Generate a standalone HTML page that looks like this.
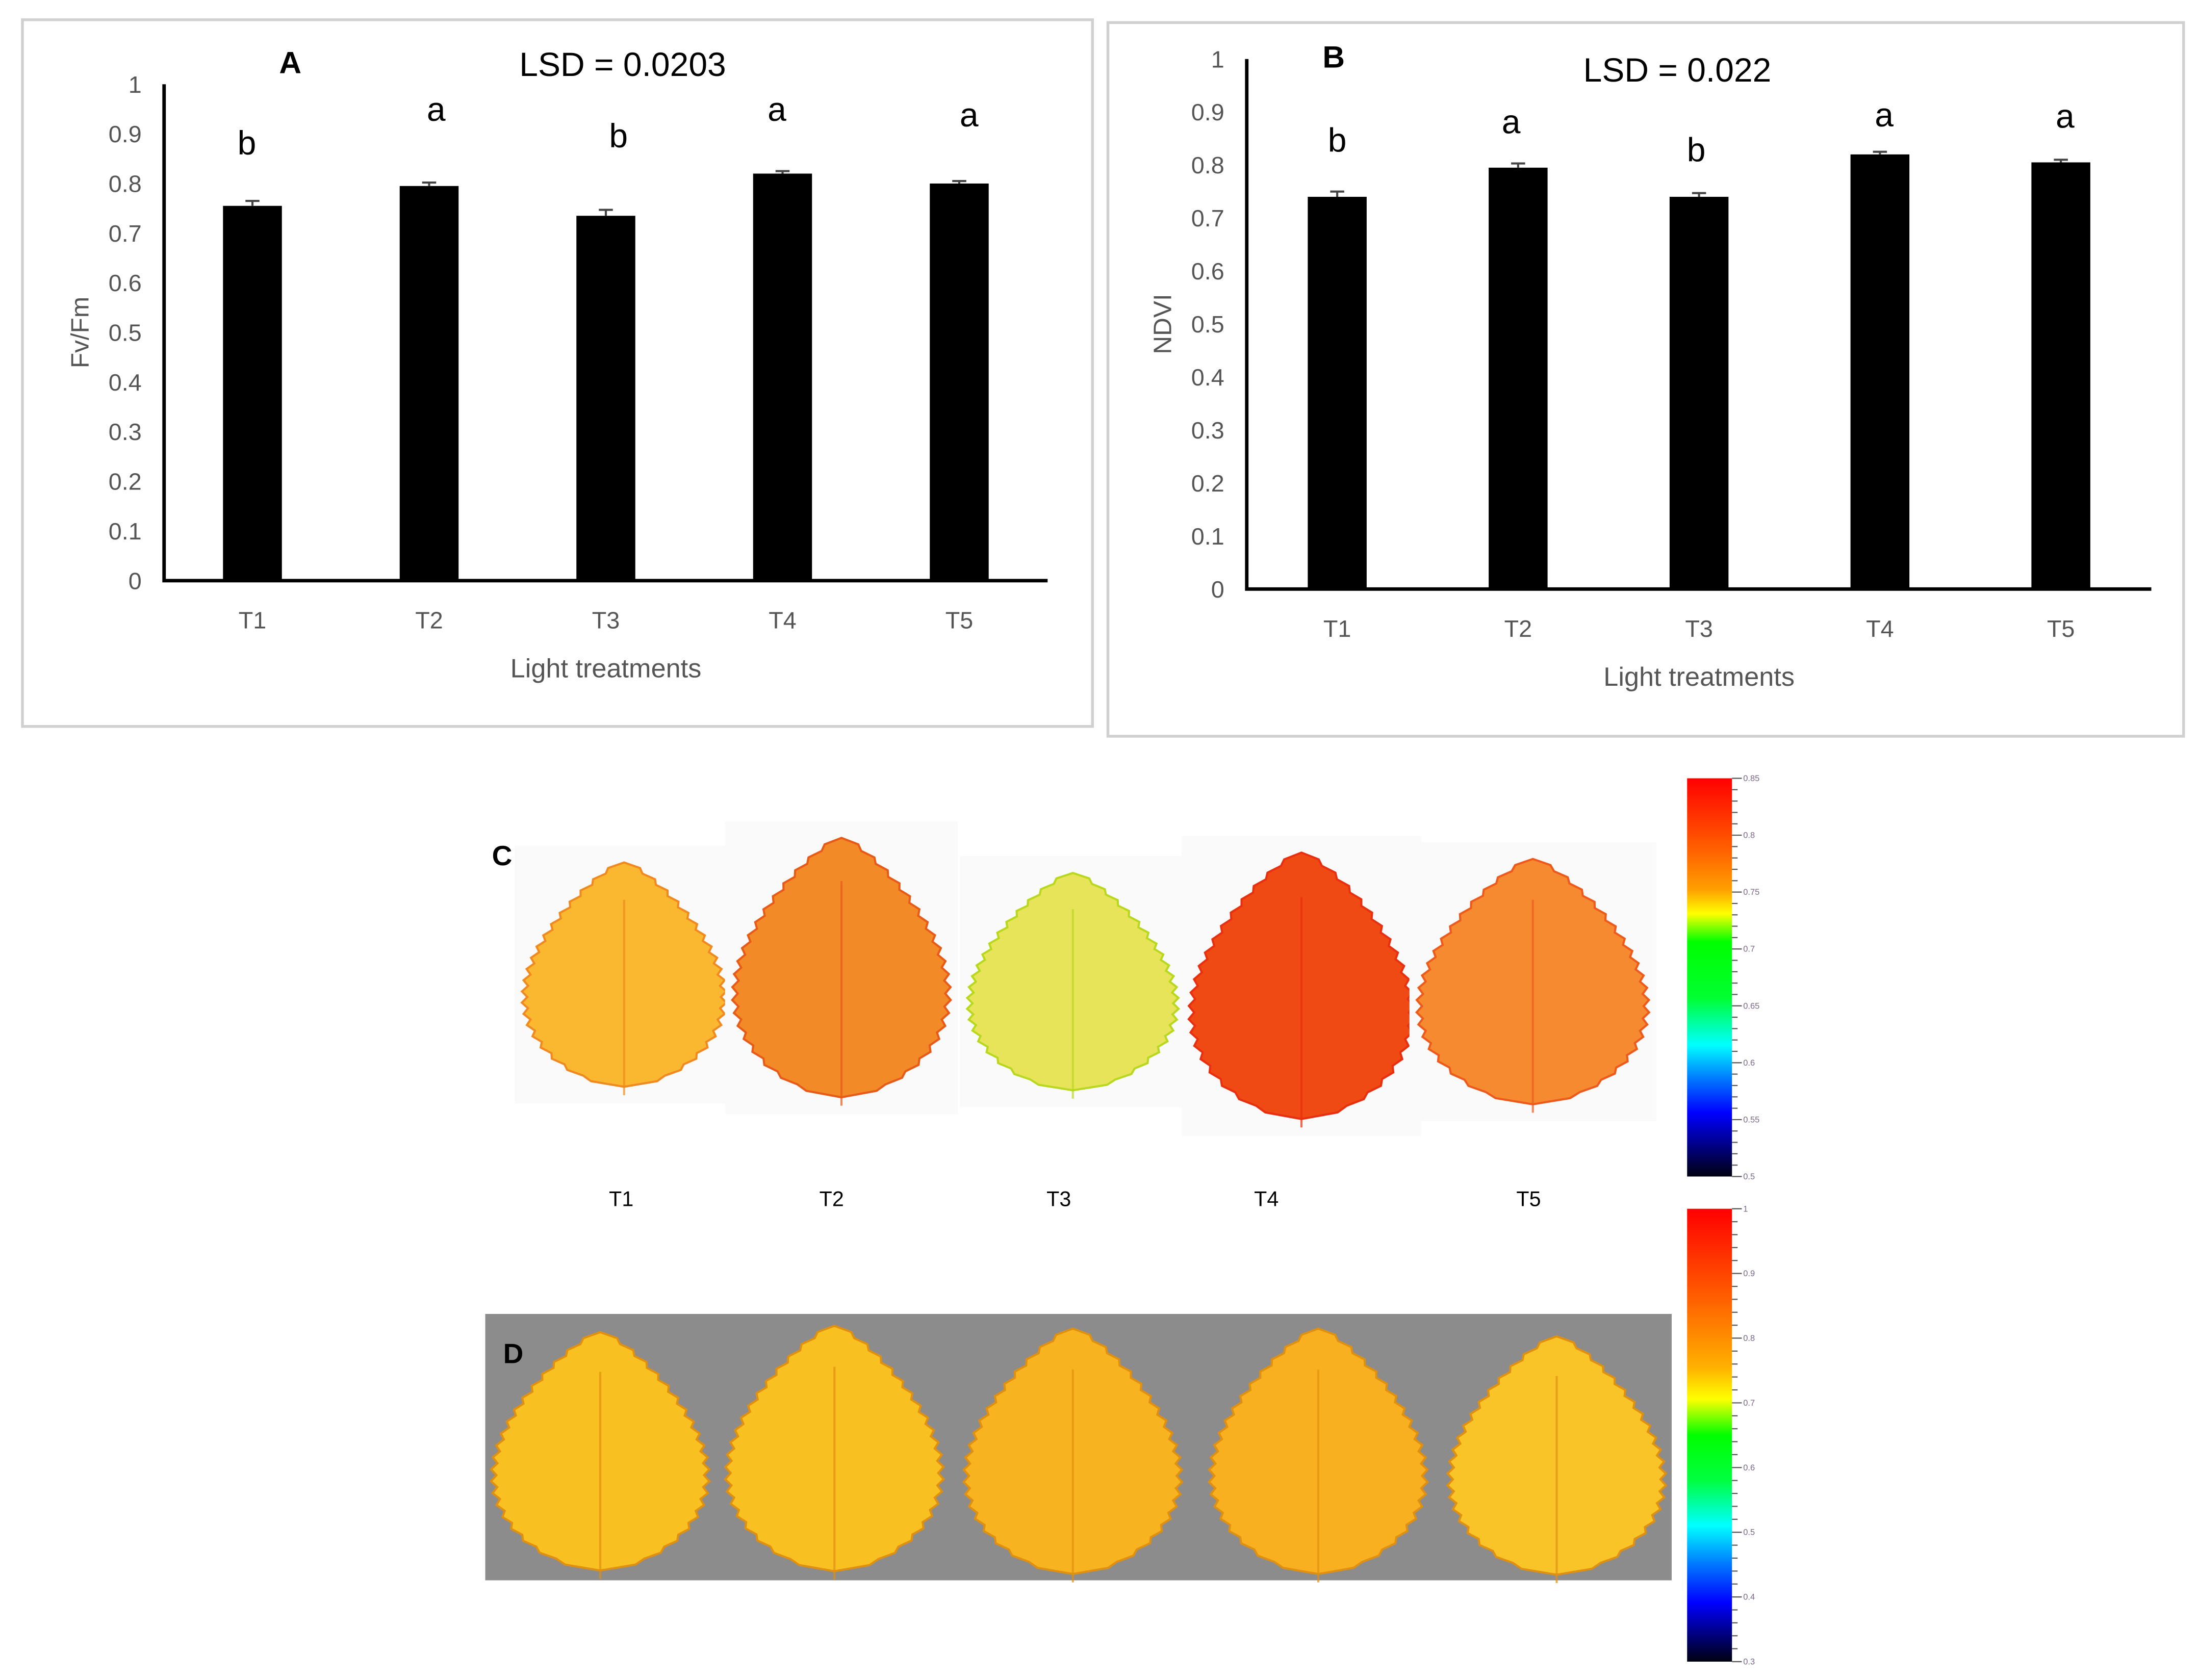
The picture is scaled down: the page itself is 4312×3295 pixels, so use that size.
<!DOCTYPE html>
<html><head><meta charset="utf-8"><style>
html,body{margin:0;padding:0;background:#fff}
svg{display:block}
text{font-family:"Liberation Sans",sans-serif}
</style></head><body>
<svg id="root" width="4312" height="3295" viewBox="0 0 1568 1198" xmlns="http://www.w3.org/2000/svg">
<defs>
<linearGradient id="cbC" x1="0" y1="0" x2="0" y2="1">
<stop offset="0" stop-color="#ff0000"/><stop offset="0.18" stop-color="#ff6000"/><stop offset="0.28" stop-color="#ffa000"/><stop offset="0.34" stop-color="#ffff00"/><stop offset="0.41" stop-color="#00ff00"/><stop offset="0.55" stop-color="#00ff30"/><stop offset="0.67" stop-color="#00ffff"/><stop offset="0.75" stop-color="#0080ff"/><stop offset="0.84" stop-color="#0000ff"/><stop offset="1" stop-color="#000010"/>
</linearGradient>
<linearGradient id="cbD" x1="0" y1="0" x2="0" y2="1">
<stop offset="0" stop-color="#ff0000"/><stop offset="0.2" stop-color="#ff6000"/><stop offset="0.35" stop-color="#ffb000"/><stop offset="0.42" stop-color="#ffff00"/><stop offset="0.5" stop-color="#00ff00"/><stop offset="0.6" stop-color="#00ff40"/><stop offset="0.7" stop-color="#00ffff"/><stop offset="0.78" stop-color="#0080ff"/><stop offset="0.87" stop-color="#0000ff"/><stop offset="1" stop-color="#000010"/>
</linearGradient>
</defs>
<g id="panels"></g>
</svg>
<script>
// Panel A data
const catsA = ["T1","T2","T3","T4","T5"];
const valsA = [0.755,0.795,0.735,0.82,0.80];
const errA = [0.01,0.007,0.012,0.005,0.005];
const lettersA = ["b","a","b","a","a"];
const ticksA = [0,0.1,0.2,0.3,0.4,0.5,0.6,0.7,0.8,0.9,1];
// Panel B data
const catsB = ["T1","T2","T3","T4","T5"];
const valsB = [0.74,0.795,0.74,0.82,0.805];
const errB = [0.01,0.008,0.007,0.005,0.005];
const lettersB = ["b","a","b","a","a"];
const ticksB = [0,0.1,0.2,0.3,0.4,0.5,0.6,0.7,0.8,0.9,1];
const ticksCbC = ["0.85","0.8","0.75","0.7","0.65","0.6","0.55","0.5"];
const ticksCbD = ["1","0.9","0.8","0.7","0.6","0.5","0.4","0.3"];

const NS="http://www.w3.org/2000/svg";
const root=document.getElementById('panels');
function el(tag,attrs,parent,txt){const e=document.createElementNS(NS,tag);for(const k in attrs)e.setAttribute(k,attrs[k]);if(txt!==undefined)e.textContent=txt;(parent||root).appendChild(e);return e;}

function chart(o){
  const g=el('g',{});
  
  
  const fr=el('rect',{x:o.fx,y:o.fy,width:o.fw,height:o.fh,fill:'#fff',stroke:'#d0d0d0','stroke-width':2},g);
  
  
  const y=v=>o.y0-(o.y0-o.y1)*v;
  const step=(o.xEnd-o.x0)/o.cats.length;
  const x=i=>o.x0+step*(i+0.5);
  o.ticks.forEach(t=>{const tx=el('text',{x:o.x0-16,y:y(t)+6,'font-size':17,fill:'#555','text-anchor':'end'},g,String(t));
    
    });
  o.vals.forEach((v,i)=>{
    const b=el('rect',{x:x(i)-21,y:y(v),width:42,height:o.y0-y(v),fill:'#000'},g);
    
    
    const ey=y(v+o.err[i]);
    const e=el('path',{d:`M${x(i)} ${y(v)} V${ey} M${x(i)-5} ${ey} H${x(i)+5}`,stroke:'#444','stroke-width':1.5,fill:'none'},g);
    
    
    const l=el('text',{x:x(i)+o.letDx[i],y:o.letY[i],'font-size':24,'text-anchor':'middle',fill:'#000'},g,o.letters[i]);
    
    
    const c=el('text',{x:x(i),y:o.y0+34,'font-size':17,'text-anchor':'middle',fill:'#555'},g,o.cats[i]);
    
    
  });
  const ax=el('path',{d:`M${o.x0} ${o.y1} V${o.y0} H${o.xEnd}`,stroke:'#000','stroke-width':2.5,fill:'none'},g);
  
  
  const xt=el('text',{x:(o.x0+o.xEnd)/2,y:o.y0+69,'font-size':19,'text-anchor':'middle',fill:'#555'},g,'Light treatments');
  
  
  const yt=el('text',{x:0,y:0,'font-size':18,'text-anchor':'middle',fill:'#555',transform:`translate(${o.ytx},${(o.y0+o.y1)/2}) rotate(-90)`},g,o.ytitle);
  
  
  const pl=el('text',{x:o.plx,y:o.ply,'font-size':22,'font-weight':'bold','text-anchor':'middle'},g,o.label);
  
  
  const ls=el('text',{x:o.lsx,y:o.lsy,'font-size':24,'text-anchor':'middle'},g,o.lsd);
  
  
}
chart({name:'chart-a-fvfm',fx:16,fy:14,fw:763,fh:504,x0:117,xEnd:747,y0:414,y1:60,cats:catsA,vals:valsA,err:errA,letters:lettersA,ticks:ticksA,letY:[110,86,105,86,90],letDx:[-4,5,9,-4,7],ytitle:'Fv/Fm',ytx:63,label:'A',plx:207,ply:52,lsd:'LSD = 0.0203',lsx:444,lsy:54});
chart({name:'chart-b-ndvi',fx:790,fy:16,fw:767,fh:509,x0:889,xEnd:1534,y0:420,y1:42,cats:catsB,vals:valsB,err:errB,letters:lettersB,ticks:ticksB,letY:[108,95,115,90,91],letDx:[0,-5,-2,3,3],ytitle:'NDVI',ytx:835,label:'B',plx:951,ply:48,lsd:'LSD = 0.022',lsx:1196,lsy:58});

function leafPath(cx,cy,w,h){
  const N=40;const left=[],right=[];
  const top=cy-h/2;
  for(let k=0;k<=N;k++){
    const u=k/N;
    const hw=(w/2)*Math.pow(Math.sin(Math.PI*Math.pow(u,0.75)),0.75);
    const tooth=(k%2?3:-1);
    const yy=top+(1-u)*h;
    right.push((cx+hw+(hw>5?tooth:0)).toFixed(1)+','+yy.toFixed(1));
    left.push((cx-hw-(hw>5?tooth:0)).toFixed(1)+','+yy.toFixed(1));
  }
  return 'M'+right.join(' L')+' L'+left.reverse().join(' L')+'Z';
}
function leafRow(o){
  const g=el('g',{});
  
  
  o.leaves.forEach((L,i)=>{
    if(o.bg){const b=el('rect',{x:L[0]-L[2]/2-8,y:L[1]-L[3]/2-12,width:L[2]+16,height:L[3]+24,fill:'#fafafa'},g);
      
      }
    const p=el('path',{d:leafPath(L[0],L[1],L[2],L[3]),fill:L[4],stroke:L[5],'stroke-width':1.5},g);
    
    
    const st=el('path',{d:`M${L[0]} ${L[1]-L[3]/3} V${L[1]+L[3]/2+6}`,stroke:L[5],'stroke-width':1.5,opacity:0.7},g);
    
    
  });
}
const gd=el('rect',{x:346,y:937,width:846,height:190,fill:'#8c8c8c'});


leafRow({name:'panel-c-leaves',bg:true,leaves:[[445,695,140,160,'#f9b830','#f08a20'],[600,690,150,185,'#f28a28','#e85a18'],[765,700,145,155,'#e8e45a','#b8d820'],[928,703,155,190,'#f04a14','#e83010'],[1093,700,160,175,'#f58a30','#ee5a1c']]});
leafRow({name:'panel-d-leaves',bg:false,leaves:[[428,1035,150,170,'#f8c020','#e09010'],[595,1033,150,175,'#f8c020','#e09010'],[765,1035,150,175,'#f8b420','#e09010'],[940,1035,150,175,'#f8b020','#e09010'],[1110,1038,150,170,'#f8c428','#e09010']]});

function label(x,y,t,size,name,bold){const e=el('text',{x:x,y:y,'font-size':size,'text-anchor':'middle','font-weight':bold?'bold':'normal'},root,t);
  
  }
label(358,617,'C',20,'panel-c-label',true);
label(366,972,'D',20,'panel-d-label',true);
[[443,'T1'],[593,'T2'],[755,'T3'],[903,'T4'],[1090,'T5']].forEach(a=>label(a[0],860,a[1],15,'leaf-label-'+a[1].toLowerCase(),false));

function colorbar(x,y0,y1,grad,labels,name){
  const g=el('g',{});
  
  
  const r=el('rect',{x:x,y:y0,width:32,height:y1-y0,fill:'url(#'+grad+')'},g);
  
  
  const n=labels.length-1;
  for(let k=0;k<=n*5;k++){const yy=y0+(y1-y0)*k/(n*5);
    el('line',{x1:x+32,x2:x+(k%5?36:39),y1:yy,y2:yy,stroke:'#555','stroke-width':0.8},g);}
  labels.forEach((t,k)=>{const tx=el('text',{x:x+40,y:y0+(y1-y0)*k/n+2,'font-size':6,fill:'#7a6a8a'},g,t);
    
    });
}
colorbar(1203,555,839,'cbC',ticksCbC,'colorbar-c');
colorbar(1203,862,1185,'cbD',ticksCbD,'colorbar-d');
</script>
</body></html>
